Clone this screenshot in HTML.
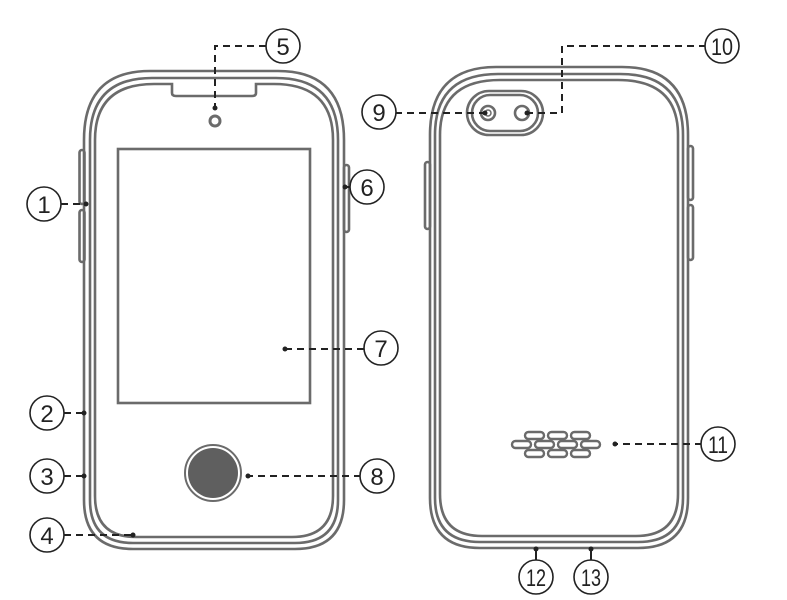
<!DOCTYPE html>
<html><head><style>html,body{margin:0;padding:0;background:#fff}svg{display:block}</style></head>
<body>
<svg width="787" height="600" viewBox="0 0 787 600" xmlns="http://www.w3.org/2000/svg" font-family="Liberation Sans Narrow, Liberation Sans, sans-serif">
<g fill="none" stroke="#6b6b6b" stroke-width="2.6">
  <path d="M84 140 Q84 71 150 71 H278 Q344 71 344 140 V500 Q344 549 295 549 H133 Q84 549 84 500 Z"/>
  <path d="M90 140 Q90 78 152 78 H276 Q338 78 338 140 V500 Q338 543 295 543 H133 Q90 543 90 500 Z"/>
  <path d="M95 140 Q95 84 154 84 H172 V93 Q172 96 176 96 H252 Q256 96 256 93 V84 H274 Q333 84 333 140 V496 Q333 537 292 537 H136 Q95 537 95 496 Z"/>
  <rect x="118" y="149" width="192" height="254"/>
  <rect x="79.5" y="150" width="5" height="54" rx="2.5"/>
  <rect x="79.5" y="210" width="5" height="52" rx="2.5"/>
  <rect x="344" y="165" width="5" height="67" rx="2.5"/>
  <circle cx="215" cy="121" r="5" stroke-width="3"/>
  <circle cx="213" cy="473" r="28" stroke-width="2"/>
  <path d="M430 135 Q430 67 496 67 H622 Q688 67 688 135 V498 Q688 548 638 548 H480 Q430 548 430 498 Z"/>
  <path d="M435 135 Q435 74 498 74 H620 Q683 74 683 135 V498 Q683 542 638 542 H480 Q435 542 435 498 Z"/>
  <path d="M440 135 Q440 80 500 80 H618 Q678 80 678 135 V494 Q678 536 636 536 H482 Q440 536 440 494 Z"/>
  <rect x="467" y="91" width="76" height="44" rx="22"/>
  <rect x="472" y="95" width="66" height="36" rx="18"/>
  <circle cx="488" cy="113" r="7"/>
  <circle cx="488" cy="113" r="3" stroke-width="1.5"/>
  <circle cx="522" cy="113" r="7"/>
  <rect x="425" y="162" width="5" height="67" rx="2.5"/>
  <rect x="688" y="146" width="5" height="54" rx="2.5"/>
  <rect x="688" y="205" width="5" height="55" rx="2.5"/>
  <g stroke-width="2.4">
    <rect x="525" y="432" width="19" height="7" rx="3.5"/><rect x="548" y="432" width="19" height="7" rx="3.5"/><rect x="571" y="432" width="19" height="7" rx="3.5"/>
    <rect x="512" y="441" width="19" height="7" rx="3.5"/><rect x="535" y="441" width="19" height="7" rx="3.5"/><rect x="558" y="441" width="19" height="7" rx="3.5"/><rect x="581" y="441" width="19" height="7" rx="3.5"/>
    <rect x="525" y="450" width="19" height="7" rx="3.5"/><rect x="548" y="450" width="19" height="7" rx="3.5"/><rect x="571" y="450" width="19" height="7" rx="3.5"/>
  </g>
</g>
<circle cx="213" cy="473" r="25" fill="#5f5f5f"/>
<g fill="none" stroke="#222" stroke-width="2" stroke-dasharray="7 5">
  <path d="M61 204 H86"/><path d="M64 413 H84"/><path d="M64 476 H84"/><path d="M64 535 H133"/>
  <path d="M266 46 H215 V108"/><path d="M351 187 H345"/><path d="M364 349 H285"/><path d="M361 476 H248"/>
  <path d="M395 113 H485"/><path d="M706 46 H562 V113 H527"/><path d="M702 444 H615"/>
</g>
<g stroke="#222" stroke-width="2"><path d="M536 549 V561"/><path d="M591 549 V561"/></g>
<g fill="#222">
  <circle cx="86" cy="204" r="2.5"/><circle cx="84" cy="413" r="2.5"/><circle cx="84" cy="476" r="2.5"/><circle cx="133" cy="535" r="2.5"/>
  <circle cx="215" cy="108" r="2.5"/><circle cx="345" cy="187" r="2.5"/><circle cx="285" cy="349" r="2.5"/><circle cx="248" cy="476" r="2.5"/>
  <circle cx="485" cy="113" r="2.5"/><circle cx="527" cy="113" r="2.5"/><circle cx="615" cy="444" r="2.5"/>
  <circle cx="536" cy="549" r="2.5"/><circle cx="591" cy="549" r="2.5"/>
</g>
<g fill="#fff" stroke="#222" stroke-width="1.6">
  <circle cx="44" cy="204" r="17"/><circle cx="47" cy="413" r="17"/><circle cx="47" cy="476" r="17"/><circle cx="47" cy="535" r="17"/>
  <circle cx="283" cy="46" r="17"/><circle cx="367" cy="187" r="17"/><circle cx="381" cy="348" r="17"/><circle cx="377" cy="476" r="17"/>
  <circle cx="379" cy="112" r="17"/><circle cx="722" cy="46" r="17"/><circle cx="718" cy="444" r="17"/>
  <circle cx="536" cy="577" r="17"/><circle cx="591" cy="577" r="17"/>
</g>
<g fill="#222" font-size="24" text-anchor="middle">
  <text x="44" y="213">1</text><text x="47" y="422">2</text><text x="47" y="485">3</text><text x="47" y="544">4</text>
  <text x="283" y="55">5</text><text x="367" y="196">6</text><text x="381" y="357">7</text><text x="377" y="485">8</text>
  <text x="379" y="121">9</text>
  <text x="722" y="55" textLength="22" lengthAdjust="spacingAndGlyphs">10</text>
  <text x="718" y="453" textLength="20" lengthAdjust="spacingAndGlyphs">11</text>
  <text x="536" y="586" textLength="20" lengthAdjust="spacingAndGlyphs">12</text>
  <text x="591" y="586" textLength="20" lengthAdjust="spacingAndGlyphs">13</text>
</g>
</svg>
</body></html>
